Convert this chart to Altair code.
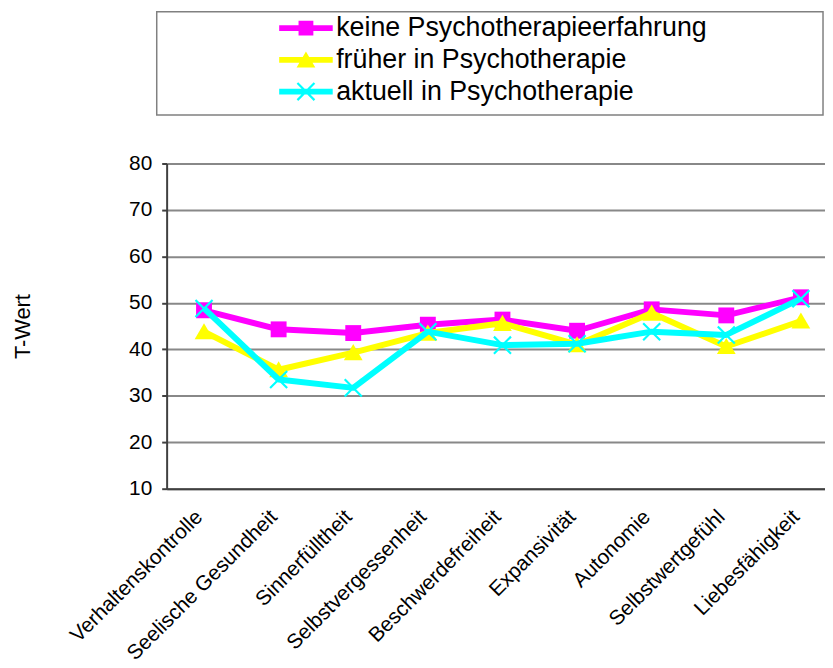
import altair as alt
import pandas as pd

categories = ["Verhaltenskontrolle", "Seelische Gesundheit", "Sinnerfülltheit",
              "Selbstvergessenheit", "Beschwerdefreiheit", "Expansivität",
              "Autonomie", "Selbstwertgefühl", "Liebesfähigkeit"]
series_names = ["keine Psychotherapieerfahrung", "früher in Psychotherapie",
                "aktuell in Psychotherapie"]
keine = [48.4, 44.3, 43.5, 45.3, 46.4, 44.0, 48.6, 47.3, 51.2]
frueher = [43.8, 35.6, 39.3, 43.5, 45.6, 41.0, 47.8, 40.6, 46.1]
aktuell = [48.8, 33.5, 31.7, 43.8, 40.9, 41.2, 43.8, 43.1, 50.9]
y_ticks = [10, 20, 30, 40, 50, 60, 70, 80]
colors = ["#FF00FF", "#FFFF00", "#00FFFF"]

# marker shapes (unit box -1..1)
sq = "M-0.89,-0.89H0.89V0.89H-0.89Z"
tri = "M0,-0.95L1.05,0.85L-1.05,0.85Z"
xs = ("M-0.87,-1.04L1.04,0.87L0.87,1.04L-1.04,-0.87Z "
      "M-1.04,0.87L0.87,-1.04L1.04,-0.87L-0.87,1.04Z")
plot_paths = [sq, tri, xs]
ln = "M-3,-0.33H3V0.33H-3Z "
legend_paths = [ln + "M-0.83,-0.83H0.83V0.83H-0.83Z",
                ln + "M0,-0.95L1.05,0.85L-1.05,0.85Z",
                ln + xs]

rows = []
for name, vals in zip(series_names, [keine, frueher, aktuell]):
    for c, v in zip(categories, vals):
        rows.append({"Kategorie": c, "Wert": v, "Reihe": name})
df = pd.DataFrame(rows)

FONT = "Liberation Sans"

x = alt.X("Kategorie:N", sort=categories,
          scale=alt.Scale(type="point", domain=categories, padding=0.412, align=0.608),
          axis=alt.Axis(title=None, labelAngle=-45, labelAlign="right",
                        labelBaseline="middle", labelPadding=25, labelOffset=-5,
                        ticks=False,
                        labelFont=FONT, labelFontSize=21, labelColor="black",
                        domainColor="#404040", domainWidth=2, grid=False,
                        labelLimit=400))
y = alt.Y("Wert:Q",
          scale=alt.Scale(domain=[10, 80], nice=False, zero=False),
          axis=alt.Axis(values=y_ticks, title="T-Wert", grid=True,
                        gridColor="#888888", gridWidth=2,
                        domainColor="#404040", domainWidth=2,
                        tickColor="#404040", tickSize=5, tickWidth=2,
                        labelFont=FONT, labelFontSize=21, labelColor="black",
                        labelPadding=10,
                        titleFont=FONT, titleFontSize=22, titleColor="black",
                        titleFontWeight="normal", titleAngle=270,
                        titleX=-145, titleY=164, titleAlign="center",
                        titleBaseline="middle"))

base = alt.Chart(df)

frame = alt.Chart(pd.DataFrame({"a": [0]})).mark_rect(
    fill="white", stroke="#808080", strokeWidth=1.5
).encode(x=alt.value(-10), x2=alt.value(662), y=alt.value(-153), y2=alt.value(-49))

layers = [frame]
for name, col, shp in zip(series_names, colors, plot_paths):
    sub = base.transform_filter(alt.datum.Reihe == name)
    layers.append(sub.mark_line(color=col, strokeWidth=6, strokeJoin="round").encode(x=x, y=y))
    layers.append(sub.mark_point(shape=shp, filled=True, size=324, color=col,
                                 opacity=1, strokeWidth=0).encode(x=x, y=y))

leg = alt.Legend(orient="none", legendX=127, legendY=-150, title=None,
                 symbolSize=324, symbolStrokeWidth=0, symbolOpacity=1,
                 labelFont=FONT, labelFontSize=27, labelColor="black",
                 labelOffset=17, rowPadding=4, labelLimit=700)
legend_layer = base.mark_point(filled=True, size=324, opacity=1, strokeWidth=0).encode(
    x=x, y=y,
    color=alt.Color("Reihe:N", scale=alt.Scale(domain=series_names, range=colors), legend=leg),
    shape=alt.Shape("Reihe:N", scale=alt.Scale(domain=series_names, range=legend_paths), legend=leg),
).transform_filter("false")
layers.append(legend_layer)

chart = alt.layer(*layers).properties(
    width=664, height=328,
    autosize=alt.AutoSizeParams(type="none"),
    padding={"left": 160, "top": 154, "right": 0, "bottom": 176},
    background="white",
).configure_view(stroke=None).configure(font=FONT)

chart.save("out.html", embed_options={"renderer": "svg", "actions": False})
